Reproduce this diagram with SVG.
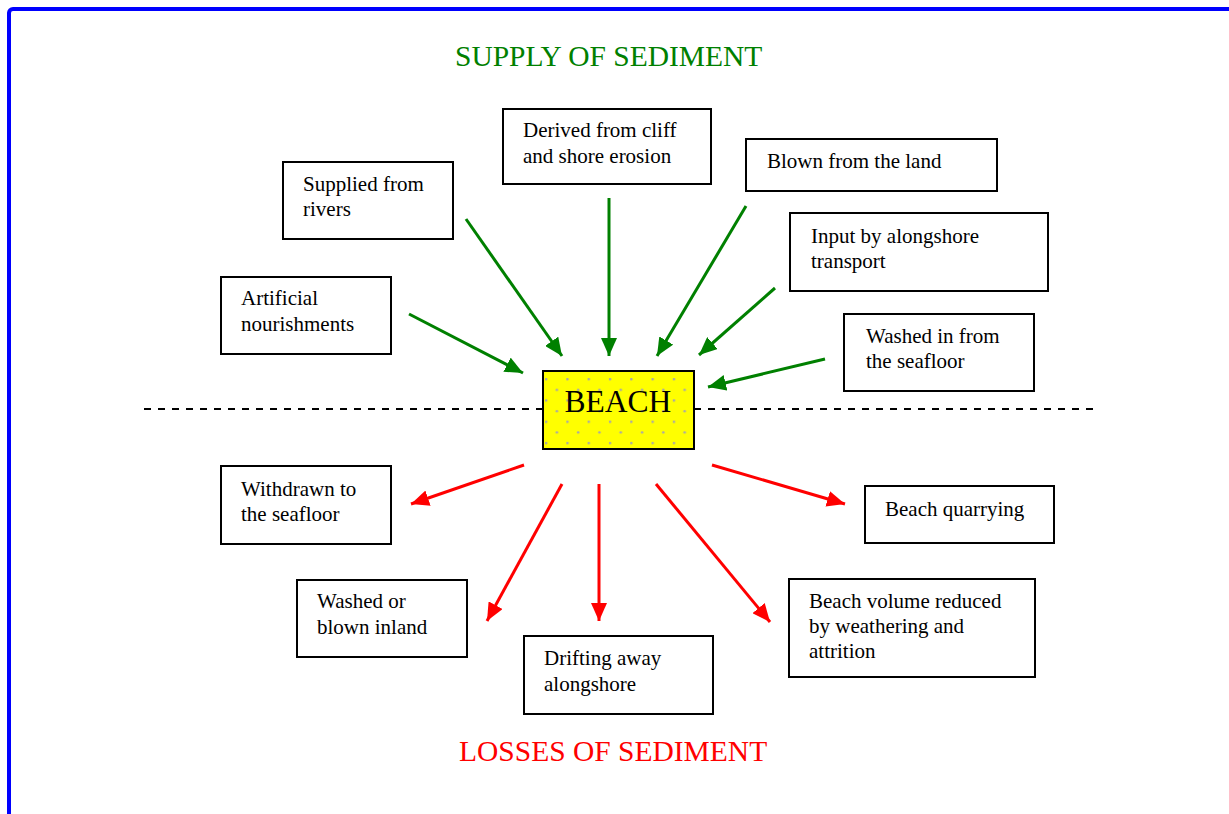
<svg xmlns="http://www.w3.org/2000/svg" width="1229" height="814" viewBox="0 0 1229 814">
<style>
.box{fill:#fff;stroke:#000;stroke-width:2}
.lbl{font-family:"Liberation Serif","Times New Roman",serif;font-size:21px;fill:#000}
.title{font-family:"Liberation Serif","Times New Roman",serif;font-size:29.5px}
.sup{stroke:#008000;stroke-width:3;fill:none}
.los{stroke:#ff0000;stroke-width:3;fill:none}
</style>
<defs>
<marker id="ag" markerUnits="userSpaceOnUse" markerWidth="20" markerHeight="16" refX="18" refY="8" orient="auto">
<path d="M0,0 L18,8 L0,16 z" fill="#008000"/>
</marker>
<marker id="ar" markerUnits="userSpaceOnUse" markerWidth="20" markerHeight="16" refX="18" refY="8" orient="auto">
<path d="M0,0 L18,8 L0,16 z" fill="#ff0000"/>
</marker>
<pattern id="dots" patternUnits="userSpaceOnUse" x="545" y="378" width="21.3" height="21.3">
<rect width="21.3" height="21.3" fill="#ffff00"/>
<circle cx="1.2" cy="1.2" r="1.3" fill="#a8a8a8"/>
<circle cx="11.85" cy="11.85" r="1.3" fill="#a8a8a8"/>
</pattern>
</defs>
<rect width="1229" height="814" fill="#fff"/>
<rect x="9" y="9" width="1260" height="840" rx="4" fill="none" stroke="#0000ff" stroke-width="4"/>

<text class="title" x="455" y="66" fill="#008000">SUPPLY OF SEDIMENT</text>
<text class="title" x="459" y="761" fill="#ff0000">LOSSES OF SEDIMENT</text>

<g id="connectors">
<line x1="144" y1="409" x2="543" y2="409" stroke="#000" stroke-width="2" stroke-dasharray="7,7"/>
<line x1="694" y1="409" x2="1093" y2="409" stroke="#000" stroke-width="2" stroke-dasharray="7,7"/>
<line class="sup" x1="409" y1="314" x2="523" y2="373" marker-end="url(#ag)"/>
<line class="sup" x1="466" y1="219" x2="562" y2="356" marker-end="url(#ag)"/>
<line class="sup" x1="609" y1="198" x2="609" y2="356" marker-end="url(#ag)"/>
<line class="sup" x1="746" y1="206" x2="657" y2="356" marker-end="url(#ag)"/>
<line class="sup" x1="775" y1="288" x2="699" y2="355" marker-end="url(#ag)"/>
<line class="sup" x1="825" y1="359" x2="708" y2="387" marker-end="url(#ag)"/>
<line class="los" x1="524" y1="465" x2="411" y2="504" marker-end="url(#ar)"/>
<line class="los" x1="562" y1="484" x2="487" y2="621" marker-end="url(#ar)"/>
<line class="los" x1="599" y1="484" x2="599" y2="621" marker-end="url(#ar)"/>
<line class="los" x1="656" y1="484" x2="770" y2="622" marker-end="url(#ar)"/>
<line class="los" x1="712" y1="465" x2="845" y2="504" marker-end="url(#ar)"/>
</g>

<g id="beach">
<rect x="543" y="371" width="151" height="78" fill="url(#dots)" stroke="#000" stroke-width="2"/>
<text x="618" y="412" text-anchor="middle" font-family="Liberation Serif, Times New Roman, serif" font-size="31.5">BEACH</text>
</g>

<g id="rivers"><rect class="box" x="283" y="162" width="170" height="77"/>
<text class="lbl" x="303" y="191">Supplied from</text><text class="lbl" x="303" y="216">rivers</text></g>

<g id="cliff"><rect class="box" x="503" y="109" width="208" height="75"/>
<text class="lbl" x="523" y="137">Derived from cliff</text><text class="lbl" x="523" y="163">and shore erosion</text></g>

<g id="blown"><rect class="box" x="746" y="139" width="251" height="52"/>
<text class="lbl" x="767" y="168">Blown from the land</text></g>

<g id="alongshore"><rect class="box" x="790" y="213" width="258" height="78"/>
<text class="lbl" x="811" y="243">Input by alongshore</text><text class="lbl" x="811" y="268">transport</text></g>

<g id="artificial"><rect class="box" x="221" y="277" width="170" height="77"/>
<text class="lbl" x="241" y="305">Artificial</text><text class="lbl" x="241" y="331">nourishments</text></g>

<g id="washedin"><rect class="box" x="844" y="314" width="190" height="77"/>
<text class="lbl" x="866" y="343">Washed in from</text><text class="lbl" x="866" y="368">the seafloor</text></g>

<g id="withdrawn"><rect class="box" x="221" y="466" width="170" height="78"/>
<text class="lbl" x="241" y="496">Withdrawn to</text><text class="lbl" x="241" y="521">the seafloor</text></g>

<g id="quarrying"><rect class="box" x="865" y="486" width="189" height="57"/>
<text class="lbl" x="885" y="516">Beach quarrying</text></g>

<g id="inland"><rect class="box" x="297" y="580" width="170" height="77"/>
<text class="lbl" x="317" y="608">Washed or</text><text class="lbl" x="317" y="634">blown inland</text></g>

<g id="drifting"><rect class="box" x="524" y="636" width="189" height="78"/>
<text class="lbl" x="544" y="665">Drifting away</text><text class="lbl" x="544" y="691">alongshore</text></g>

<g id="weathering"><rect class="box" x="789" y="579" width="246" height="98"/>
<text class="lbl" x="809" y="608">Beach volume reduced</text><text class="lbl" x="809" y="633">by weathering and</text><text class="lbl" x="809" y="658">attrition</text></g>
</svg>
